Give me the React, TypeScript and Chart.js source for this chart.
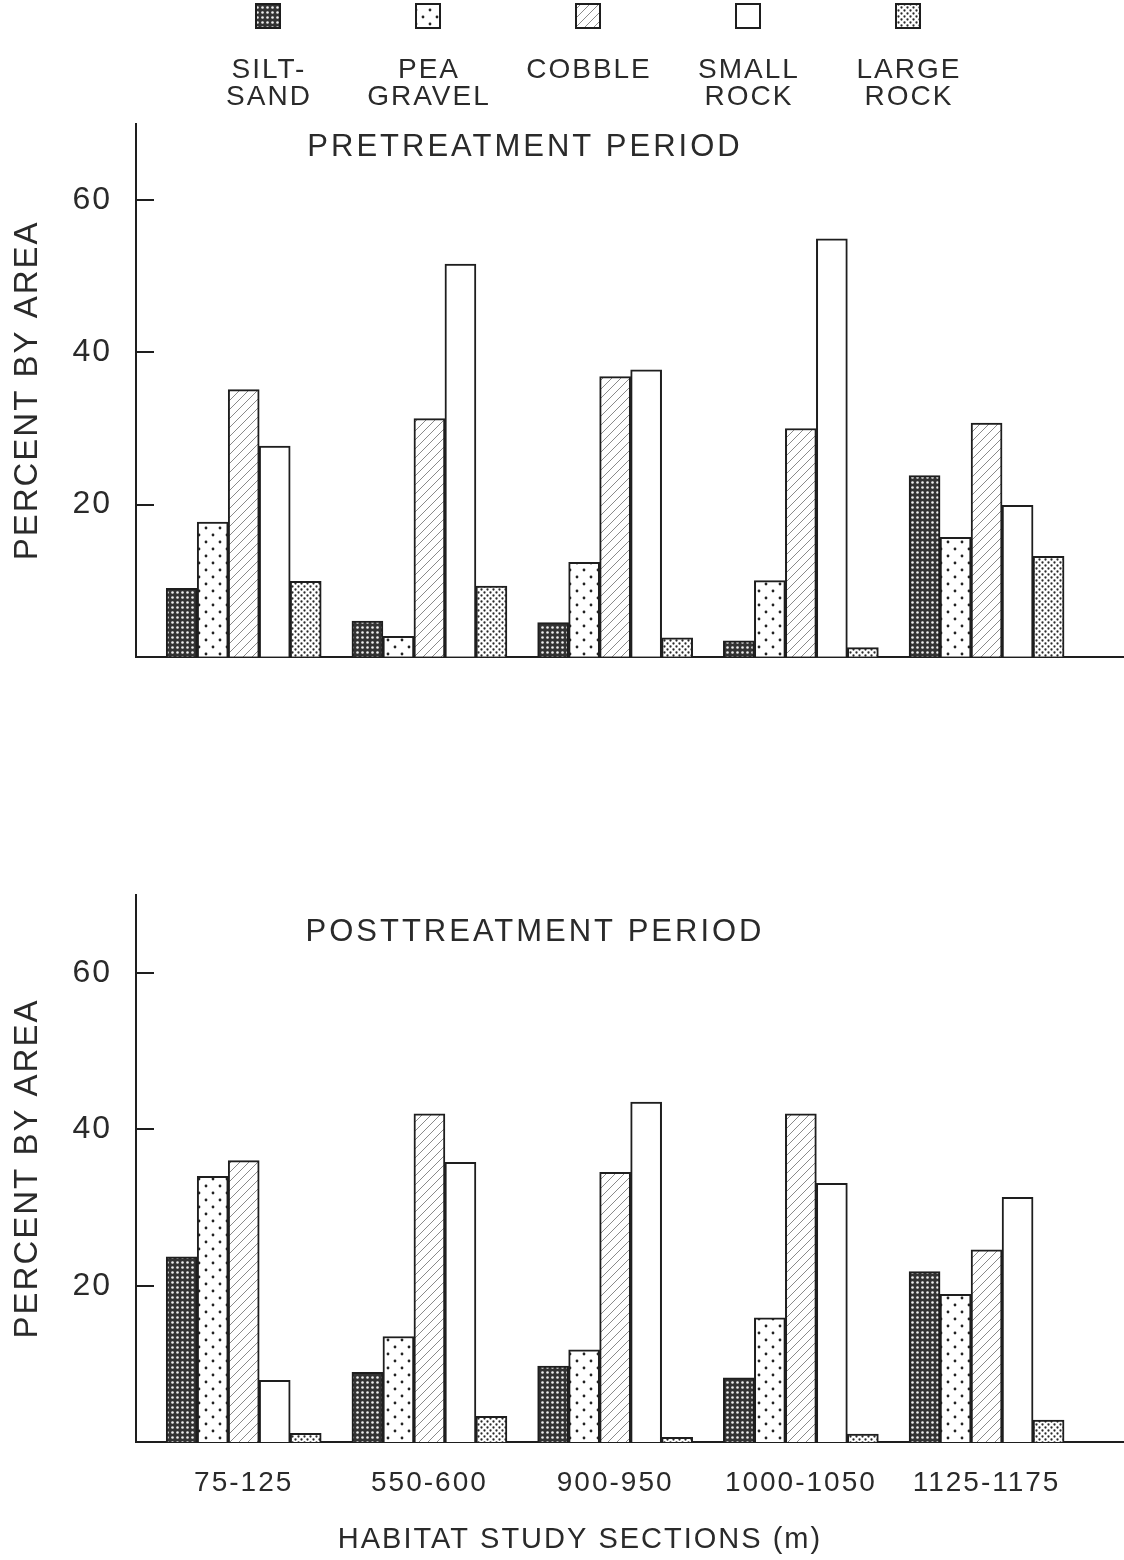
import React, { useEffect, useRef } from 'react';
import { Chart, registerables } from 'chart.js';

Chart.register(...registerables);

// ---- data ----
const sections = ['75-125', '550-600', '900-950', '1000-1050', '1125-1175'];
const substrateLines = [['SILT-', 'SAND'], ['PEA', 'GRAVEL'], ['COBBLE'], ['SMALL', 'ROCK'], ['LARGE', 'ROCK']];
const substrateNames = ['Silt-sand', 'Pea gravel', 'Cobble', 'Small rock', 'Large rock'];

const preSiltSand = [9.0, 4.7, 4.5, 2.1, 23.8];
const prePeaGravel = [17.7, 2.7, 12.4, 10.0, 15.7];
const preCobble = [35.1, 31.3, 36.8, 30.0, 30.7];
const preSmallRock = [27.7, 51.6, 37.7, 54.9, 19.9];
const preLargeRock = [9.9, 9.3, 2.5, 1.2, 13.2];

const postSiltSand = [23.7, 8.9, 9.7, 8.2, 21.8];
const postPeaGravel = [34.0, 13.5, 11.8, 15.9, 18.9];
const postCobble = [36.0, 42.0, 34.5, 42.0, 24.6];
const postSmallRock = [7.9, 35.8, 43.5, 33.1, 31.3];
const postLargeRock = [1.1, 3.3, 0.6, 1.0, 2.8];

const yTicks = [20, 40, 60];

const TEXT = '#2a2a2a';
const LINE = '#1e1e1e';
const FONT_FAMILY = '"Liberation Sans", Arial, sans-serif';

function makePattern(kind: number): CanvasPattern | string {
  const c = document.createElement('canvas');
  const ctx = c.getContext('2d')!;
  if (kind === 0) {
    c.width = 5; c.height = 5;
    ctx.fillStyle = '#333333';
    ctx.fillRect(0, 0, 5, 5);
    ctx.fillStyle = '#eeeeee';
    ctx.beginPath(); ctx.arc(2.5, 2.5, 1.3, 0, Math.PI * 2); ctx.fill();
  } else if (kind === 1) {
    c.width = 14; c.height = 14;
    ctx.fillStyle = '#ffffff';
    ctx.fillRect(0, 0, 14, 14);
    ctx.fillStyle = '#222';
    ctx.beginPath(); ctx.arc(3, 3, 1.4, 0, Math.PI * 2); ctx.fill();
    ctx.beginPath(); ctx.arc(10, 10, 1.4, 0, Math.PI * 2); ctx.fill();
  } else if (kind === 2) {
    c.width = 9; c.height = 9;
    ctx.fillStyle = '#ffffff';
    ctx.fillRect(0, 0, 9, 9);
    ctx.strokeStyle = '#8a8a8a';
    ctx.lineWidth = 1;
    ctx.beginPath();
    ctx.moveTo(-1, 10); ctx.lineTo(10, -1);
    ctx.moveTo(-1, 1); ctx.lineTo(1, -1);
    ctx.moveTo(8, 10); ctx.lineTo(10, 8);
    ctx.stroke();
  } else if (kind === 3) {
    return '#ffffff';
  } else {
    c.width = 6; c.height = 6;
    ctx.fillStyle = '#ffffff';
    ctx.fillRect(0, 0, 6, 6);
    ctx.fillStyle = '#2a2a2a';
    ctx.beginPath(); ctx.arc(1.5, 1.5, 1.15, 0, Math.PI * 2); ctx.fill();
    ctx.beginPath(); ctx.arc(4.5, 4.5, 1.15, 0, Math.PI * 2); ctx.fill();
  }
  return ctx.createPattern(c, 'repeat')!;
}

function spacing(chart: any) {
  chart.ctx.letterSpacing = '2px';
}

function buildChart(
  canvas: HTMLCanvasElement,
  values: number[][],
  patterns: (CanvasPattern | string)[],
  cfg: {
    padTop: number;
    xHeight: number;
    showX: boolean;
    title: string;
    titleX: number;
    titleY: number;
    legend: boolean;
    xTitle?: { text: string; x: number; y: number };
  }
) {
  const decor = {
    id: 'decor',
    beforeLayout: spacing,
    beforeDraw: spacing,
    afterDraw(chart: any) {
      const ctx = chart.ctx as CanvasRenderingContext2D;
      const y = chart.scales.y;
      const area = chart.chartArea;
      ctx.save();
      (ctx as any).letterSpacing = '0px';
      // inward tick marks
      ctx.strokeStyle = LINE;
      ctx.lineWidth = 2;
      yTicks.forEach((v) => {
        const py = Math.round(y.getPixelForValue(v));
        ctx.beginPath();
        ctx.moveTo(area.left, py);
        ctx.lineTo(area.left + 18, py);
        ctx.stroke();
      });
      (ctx as any).letterSpacing = '3px';
      ctx.fillStyle = TEXT;
      ctx.font = `31px ${FONT_FAMILY}`;
      ctx.textAlign = 'center';
      ctx.textBaseline = 'middle';
      ctx.fillText(cfg.title, cfg.titleX, cfg.titleY);
      if (cfg.xTitle) {
        (ctx as any).letterSpacing = '2px';
        ctx.font = `29px ${FONT_FAMILY}`;
        ctx.fillText(cfg.xTitle.text, cfg.xTitle.x, cfg.xTitle.y);
      }
      if (cfg.legend) {
        (ctx as any).letterSpacing = '2px';
        ctx.font = `28px ${FONT_FAMILY}`;
        substrateLines.forEach((lines, i) => {
          const cx = 268 + i * 160;
          ctx.fillStyle = patterns[i] as any;
          ctx.fillRect(cx - 12, 4, 24, 24);
          ctx.strokeStyle = LINE;
          ctx.lineWidth = 2;
          ctx.strokeRect(cx - 12, 4, 24, 24);
          ctx.fillStyle = TEXT;
          lines.forEach((t, k) => {
            ctx.fillText(t, cx + 1, 70 + k * 27);
          });
        });
      }
      ctx.restore();
    },
  };

  return new Chart(canvas, {
    type: 'bar',
    data: {
      datasets: substrateNames.map((name, j) => ({
        label: name,
        data: values[j].map((v, i) => ({ x: i, y: v })),
        backgroundColor: patterns[j] as any,
        borderColor: LINE,
        borderWidth: 2,
        barThickness: 31,
      })),
    },
    options: {
      animation: false,
      responsive: false,
      maintainAspectRatio: false,
      layout: { padding: { top: cfg.padTop, left: 0, right: 0, bottom: 0 } },
      plugins: {
        legend: { display: false },
        tooltip: { enabled: false },
        title: { display: false },
      },
      scales: {
        x: {
          type: 'linear',
          offset: false,
          min: -0.58,
          max: 4.74,
          grid: { display: false, drawTicks: false, offset: false },
          border: { display: true, color: LINE, width: 2 },
          ticks: {
            display: cfg.showX,
            autoSkip: false,
            maxRotation: 0,
            padding: 24,
            color: TEXT,
            font: { family: FONT_FAMILY, size: 28 },
            callback: (v: any) => sections[Number(v)] ?? '',
          },
          afterBuildTicks: (s: any) => {
            s.ticks = sections.map((_, i) => ({ value: i }));
          },
          afterFit: (s: any) => {
            s.height = cfg.xHeight;
          },
        },
        y: {
          min: 0,
          max: 70,
          grid: { display: false, drawTicks: false },
          border: { display: true, color: LINE, width: 2 },
          ticks: {
            padding: 24,
            color: TEXT,
            font: { family: FONT_FAMILY, size: 32 },
          },
          title: {
            display: true,
            text: 'PERCENT BY AREA',
            color: TEXT,
            font: { family: FONT_FAMILY, size: 33 },
            padding: { top: 8, bottom: 0 },
          },
          afterBuildTicks: (s: any) => {
            s.ticks = yTicks.map((v) => ({ value: v }));
          },
          afterFit: (s: any) => {
            s.width = 136;
          },
        },
      },
    },
    plugins: [decor],
  } as any);
}

export default function App() {
  const topRef = useRef<HTMLCanvasElement>(null);
  const botRef = useRef<HTMLCanvasElement>(null);

  useEffect(() => {
    const patterns = [0, 1, 2, 3, 4].map((k) => makePattern(k));
    const top = buildChart(
      topRef.current!,
      [preSiltSand, prePeaGravel, preCobble, preSmallRock, preLargeRock],
      patterns,
      {
        padTop: 124,
        xHeight: 36,
        showX: false,
        title: 'PRETREATMENT PERIOD',
        titleX: 525,
        titleY: 147,
        legend: true,
      }
    );
    const bot = buildChart(
      botRef.current!,
      [postSiltSand, postPeaGravel, postCobble, postSmallRock, postLargeRock],
      patterns,
      {
        padTop: 195,
        xHeight: 118,
        showX: true,
        title: 'POSTTREATMENT PERIOD',
        titleX: 535,
        titleY: 232,
        legend: false,
        xTitle: { text: 'HABITAT STUDY SECTIONS (m)', x: 580, y: 840 },
      }
    );
    return () => {
      top.destroy();
      bot.destroy();
    };
  }, []);

  return (
    <div style={{ position: 'absolute', left: 0, top: 0, width: 1124, height: 1560, background: '#fff' }}>
      <canvas ref={topRef} width={1124} height={700} style={{ position: 'absolute', left: 0, top: 0 }} />
      <canvas ref={botRef} width={1124} height={860} style={{ position: 'absolute', left: 0, top: 700 }} />
    </div>
  );
}
